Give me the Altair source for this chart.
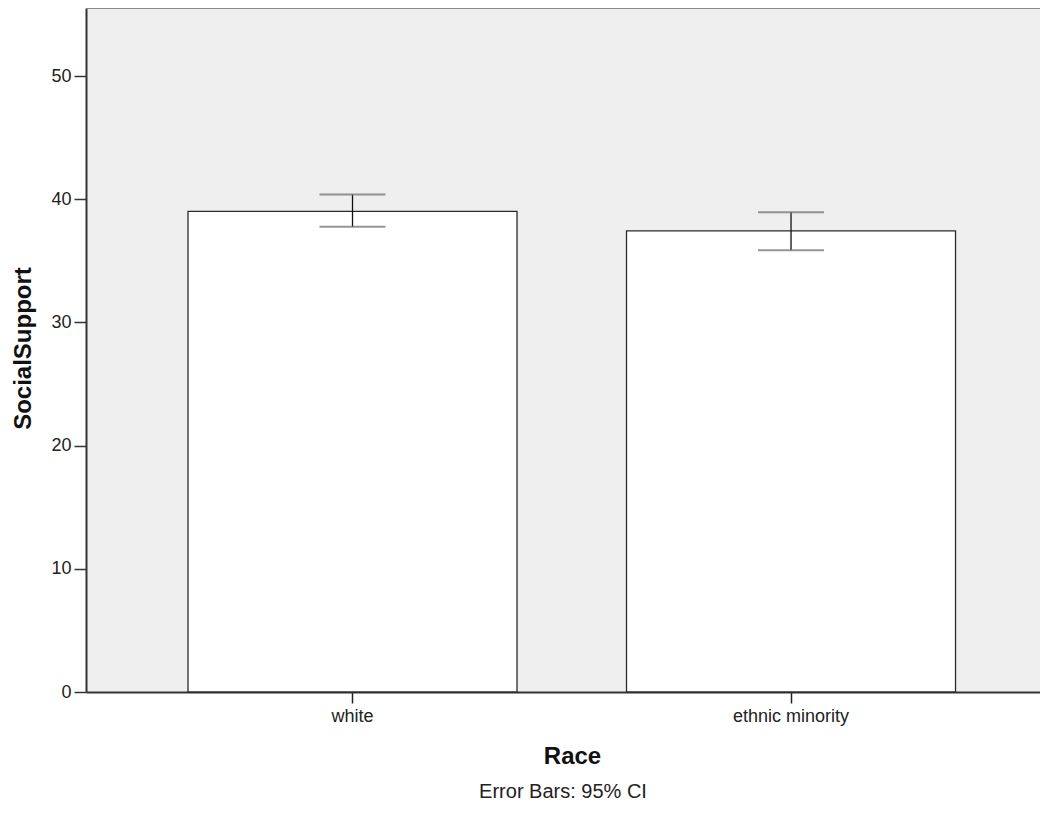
import altair as alt
import pandas as pd

race = ["white", "ethnic minority"]
mean_support = [39.02, 37.43]
ci_lower = [37.76, 35.86]
ci_upper = [40.38, 38.94]
y_ticks = [0, 10, 20, 30, 40, 50]
y_max = 55.52

df = pd.DataFrame({"Race": race, "SocialSupport": mean_support,
                   "lo": ci_lower, "hi": ci_upper})

FONT = "Liberation Sans"

x_enc = alt.X("Race:N", sort=race,
              scale=alt.Scale(paddingInner=0.2497, paddingOuter=0.2126, align=0.547),
              axis=alt.Axis(title="Race", labelAngle=0, labelFontSize=18, labelFont=FONT,
                            labelColor="#222222", labelPadding=4,
                            tickSize=11, tickColor="#222222", tickWidth=1.5,
                            domainColor="#333333", domainWidth=2,
                            titleFont=FONT, titleFontSize=24, titleFontWeight="bold",
                            titleColor="#111111", titleX=486, titleY=64,
                            titleBaseline="middle"))

y_scale = alt.Scale(domain=[0, y_max], nice=False, zero=True)

bars = alt.Chart(df).mark_bar(fill="white", stroke="#2b2b2b", strokeWidth=1.3).encode(
    x=x_enc,
    y=alt.Y("SocialSupport:Q", scale=y_scale,
            axis=alt.Axis(values=y_ticks, grid=False, tickSize=12, tickColor="#333333",
                          tickWidth=1.5, labelFontSize=18, labelFont=FONT,
                          labelColor="#222222", labelPadding=3,
                          domainColor="#333333", domainWidth=2,
                          title="SocialSupport", titleFont=FONT, titleFontSize=24,
                          titleFontWeight="bold", titleColor="#111111",
                          titleX=-63, titleY=340, titleBaseline="middle")),
)

whisker = alt.Chart(df).mark_rule(color="#111111", strokeWidth=1.3).encode(
    x=alt.X("Race:N", sort=race),
    y=alt.Y("lo:Q", scale=y_scale),
    y2="hi:Q",
)

cap_lo = alt.Chart(df).mark_tick(size=66, thickness=2, color="#6a6a6a").encode(
    x=alt.X("Race:N", sort=race),
    y=alt.Y("lo:Q", scale=y_scale),
)
cap_hi = alt.Chart(df).mark_tick(size=66, thickness=2, color="#6a6a6a").encode(
    x=alt.X("Race:N", sort=race),
    y=alt.Y("hi:Q", scale=y_scale),
)

top_border = alt.Chart(df).mark_rule(color="#8a8a8a", strokeWidth=2).encode(
    y=alt.datum(y_max),
)

chart = alt.layer(bars, whisker, cap_lo, cap_hi, top_border).properties(
    width=954, height=684,
    autosize=alt.AutoSizeParams(type="none"),
    padding={"left": 78, "top": 0, "right": 0, "bottom": 112},
    title=alt.TitleParams(text="Error Bars: 95% CI", orient="bottom", anchor="middle",
                          font=FONT, fontSize=20, fontWeight="normal", color="#222222",
                          offset=14),
).configure_view(fill="#efefef", strokeWidth=0)

chart.save("out.html", embed_options={"renderer": "svg", "actions": False})
